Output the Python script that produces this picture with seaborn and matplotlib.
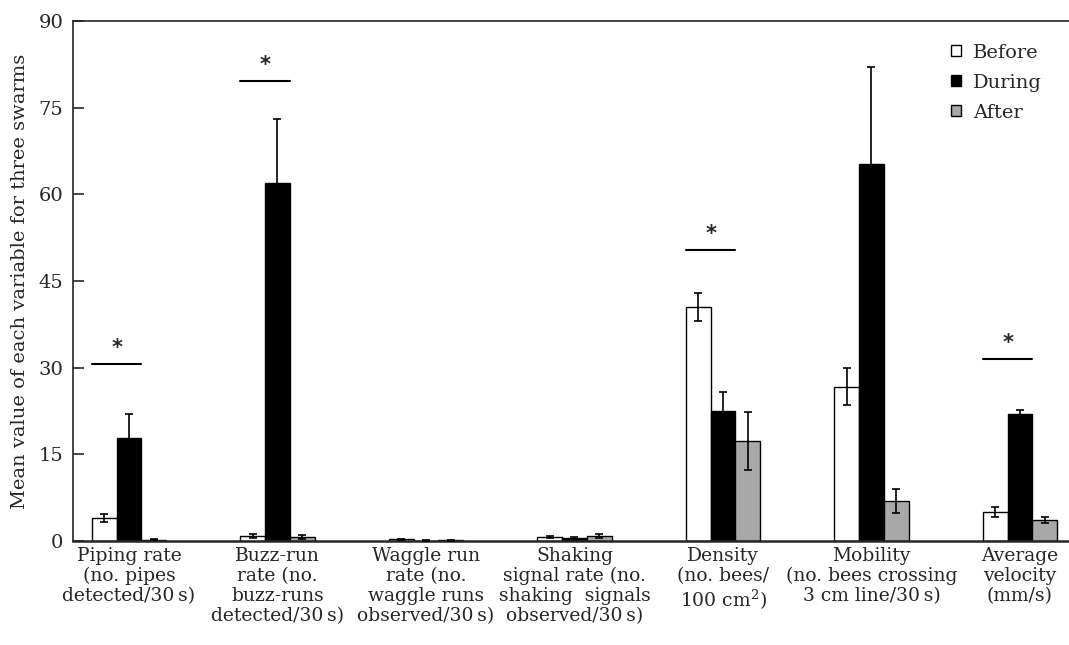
import matplotlib
matplotlib.use('Agg')
import matplotlib.pyplot as plt
from matplotlib.patches import Patch
import numpy as np
import pandas as pd
import seaborn as sns

# data
categories = [
    'Piping rate\n(no. pipes\ndetected/30\u2009s)',
    'Buzz-run\nrate (no.\nbuzz-runs\ndetected/30\u2009s)',
    'Waggle run\nrate (no.\nwaggle runs\nobserved/30\u2009s)',
    'Shaking\nsignal rate (no.\nshaking  signals\nobserved/30\u2009s)',
    'Density\n(no. bees/\n100 cm$^\\mathrm{2}$)',
    'Mobility\n(no. bees crossing\n3 cm line/30\u2009s)',
    'Average\nvelocity\n(mm/s)',
]
periods = ['Before', 'During', 'After']
before = [4.0, 0.9, 0.3, 0.7, 40.5, 26.7, 5.0]
during = [17.8, 62.0, 0.05, 0.5, 22.5, 65.2, 22.0]
after = [0.2, 0.7, 0.1, 0.9, 17.3, 6.9, 3.6]
before_err = [0.7, 0.4, 0.1, 0.15, 2.4, 3.2, 0.9]
during_err = [4.2, 11.0, 0.05, 0.15, 3.3, 16.8, 0.6]
after_err = [0.1, 0.4, 0.05, 0.4, 5.0, 2.1, 0.5]
# significance marks: category index and line height
sig_idx = [0, 1, 4, 6]
sig_y = [30.6, 79.6, 50.4, 31.5]

colors = {'Before': 'white', 'During': 'black', 'After': '#a8a8a8'}

df = pd.DataFrame({
    'Variable': categories * 3,
    'Period': [p for p in periods for _ in categories],
    'Value': before + during + after,
})

sns.set_style('ticks')
plt.rcParams['font.family'] = ['DejaVu Serif']
plt.rcParams['mathtext.fontset'] = 'dejavuserif'

fig = plt.figure(figsize=(10.69, 6.45), dpi=100)
ax = fig.add_axes([0.0683, 0.1612, 0.9317, 0.8062])

sns.barplot(data=df, x='Variable', y='Value', hue='Period', order=categories,
            hue_order=periods, palette=colors, width=0.5, edgecolor='black',
            linewidth=1, errorbar=None, legend=False, ax=ax)

# error bars on the bars seaborn drew
errs = [before_err, during_err, after_err]
vals = [before, during, after]
bar_conts = list(ax.containers)
lefts = [b.get_x() for b in bar_conts[0]]
rights = [b.get_x() + b.get_width() for b in bar_conts[1]]
for k, cont in enumerate(bar_conts):
    xs = [b.get_x() + b.get_width() / 2 for b in cont]
    ax.errorbar(xs, vals[k], yerr=errs[k], fmt='none', ecolor='black',
                elinewidth=1.2, capsize=3, capthick=1.2, zorder=5)

for i, y in zip(sig_idx, sig_y):
    ax.plot([lefts[i], rights[i]], [y, y], color='black', lw=1.5)
    ax.text((lefts[i] + rights[i]) / 2, y + 1.0, '*', ha='center', va='bottom',
            fontsize=15, fontweight='bold', family='DejaVu Sans')

ax.set_ylim(0, 90)
ax.set_yticks(np.arange(0, 91, 15))
ax.set_xlim(-0.377, 6.33)
ax.set_xlabel('')
ax.set_ylabel('Mean value of each variable for three swarms', fontsize=14, labelpad=7)
ax.tick_params(axis='y', direction='in', length=8, width=1.2, labelsize=14, pad=7)
ax.tick_params(axis='x', length=0, labelsize=13.5, pad=4)
for lab in ax.get_xticklabels():
    lab.set_linespacing(1.15)
ax.spines['right'].set_visible(False)
ax.spines['left'].set_linewidth(1.2)
ax.spines['top'].set_linewidth(1.2)
ax.spines['bottom'].set_linewidth(1.8)

handles = [Patch(facecolor=colors[p], edgecolor='black', lw=1, label=p) for p in periods]
ax.legend(handles=handles, loc='upper right', bbox_to_anchor=(0.99, 0.99),
          frameon=False, fontsize=14, handlelength=0.5, handleheight=0.5,
          handletextpad=0.6, labelspacing=0.62)

fig.savefig('out.png', dpi=100)
